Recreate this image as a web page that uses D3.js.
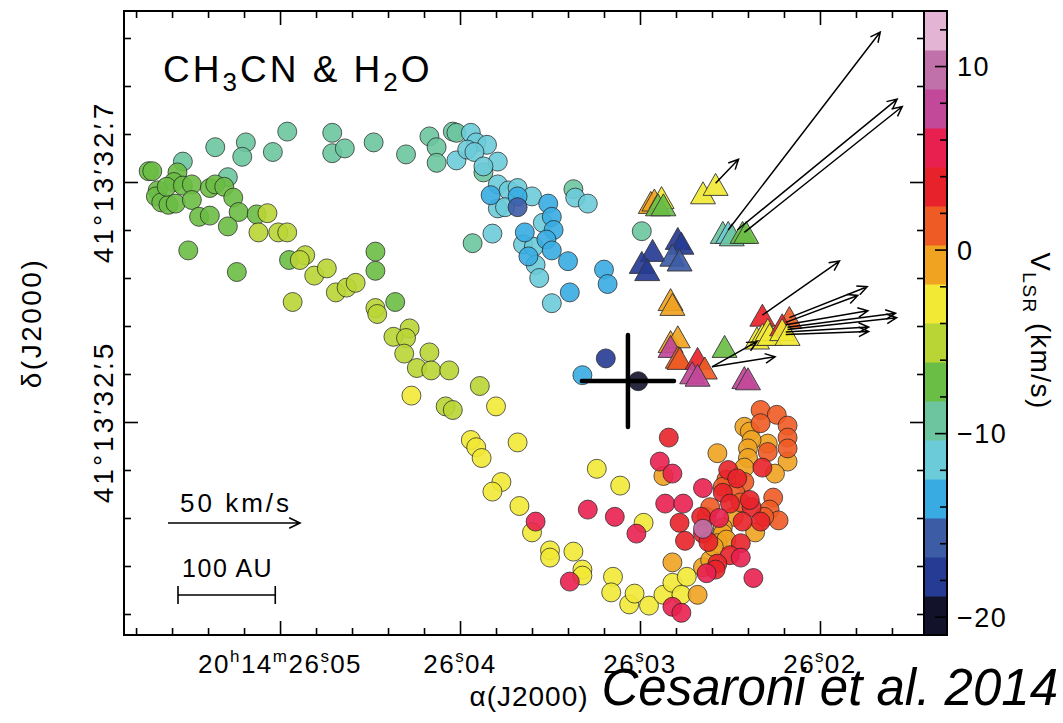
<!DOCTYPE html>
<html>
<head>
<meta charset="utf-8">
<script src="https://cdn.jsdelivr.net/npm/d3@7"></script>
<style>
  body { margin: 0; background: #fff; }
  text { font-family: "Liberation Sans", Arial, sans-serif; fill: #000; }
</style>
</head>
<body>
<svg id="chart"></svg>
<script>
// RA given as ms of time past 20h14m26.000s, Dec as mas past 41d13'32.5"

// velocity colour table, bottom (-21) to top (+13) km/s
const bandColors = ['#12122a', '#263b94', '#3d5ca6', '#38ace2', '#6ccbd9', '#6cc59f', '#6abd45', '#b9d535',
                    '#f2e935', '#f0a321', '#ee5b24', '#e8222a', '#e8204f', '#c2489a', '#c071aa', '#e3b4d3'];
const vRange = [-21, 13];
const cbarTicks = [-20, -10, 0, 10];

// CH3CN spots, grouped by velocity channel: [ra, dec]
const cnTeal = [[53.6,229],[51.9,233],[52.1,221],[50.4,225],[49.6,242],[47.1,241],[47.1,224],[46.4,228],[44.8,233],[43.0,223],
  [55.4,217],[52.9,204],[41.7,238],[41.3,229],[41.3,216],[40.4,242],[40.2,241],[38.7,208],[33.7,194],[39.3,149],[29.9,159]];
const cnGreen = [[57.3,209],[57.1,209],[55.7,208],[55.9,200],[56.8,193],[56.9,188],[56.6,183],[56.2,181],[55.8,182],[56.3,196],
  [55.4,197],[54.9,198],[54.9,185],[54.5,171],[53.9,172],[53.9,195],[53.6,198],[53.1,196],[52.6,187],[52.3,175],[51.3,173],
  [52.9,163],[55.1,143],[52.4,125],[44.7,142],[44.7,126],[49.5,135],[43.6,100]];
const cnYellowGreen = [[50.7,174],[51.2,158],[50.1,158],[49.6,158],[48.6,139],[48.9,135],[48.1,122],[47.4,128],[46.9,108],
  [46.3,112],[45.8,116],[49.3,100],[44.7,95],[44.6,90],[43.7,71],[42.8,78],[43.0,70],[43.1,57],[41.7,58],[42.4,45],[41.6,43],
  [40.6,43],[38.9,30],[40.8,13],[40.4,10]];
const cnCyan = [[39.4,241],[39.1,233],[38.5,231],[40.2,218],[39.6,227],[39.2,225],[37.9,217],[38.7,213],[37.9,198],[37.3,193],
  [36.8,195],[36.0,188],[37.9,178],[37.5,179],[33.6,187],[32.9,182],[38.2,157],[36.5,148],[35.9,146],[35.8,131],[35.6,120],
  [35.4,166],[34.9,99]];
const cnBlue = [[38.3,189],[36.8,188],[35.1,182],[34.9,171],[34.8,160],[35.2,152],[34.9,143],[36.4,158],[36.2,138],[34.0,134],
  [32.0,127],[31.8,115],[33.9,108],[33.2,39]];
const cnMidBlue = [[36.8,179]];
const cnDarkBlue = [[31.9,53]];
const cnBlack = [[30.1,34]];
const cnYellow = [[42.7,22],[38.0,13],[39.4,-15],[39.1,-21],[38.8,-30],[36.8,-17],[32.4,-39],[37.7,-50],[38.2,-58],[36.7,-70],
  [36.0,-92],[35.0,-107],[35.0,-113],[33.7,-108],[33.2,-123],[33.2,-128],[31.1,-53],[29.8,-84],[31.5,-129],[31.6,-142],
  [30.6,-152],[30.3,-143],[29.5,-153],[28.7,-144],[28.2,-134],[27.7,-144],[27.4,-129]];
const cnOrange = [[28.7,-45],[25.7,-26],[28.2,-117],[26.8,-144],[26.5,-121],[24.2,-4],[23.9,-8],[22.9,-18],[23.8,-15],
  [24.0,-22],[21.8,-33],[22.5,-43],[24.0,-30],[24.2,-38],[23.6,-92],[24.8,-79],[25.4,-88],[25.4,-93],[25.7,-101],[25.2,-98],
  [26.1,-115],[25.9,-104]];
const cnOrangeRed = [[23.3,10],[22.4,6],[21.8,-3],[23.3,-1],[21.8,-13],[22.9,-25],[21.8,-22],[24.2,-50],[25.2,-48],[25.4,-54],
  [24.7,-59],[24.4,-67],[22.6,-63],[22.8,-73],[22.3,-82],[23.1,-79],[26.3,-79],[26.1,-71]];
const cnRed = [[28.4,-13],[27.8,-84],[27.5,-99],[25.1,-40],[24.6,-47],[25.4,-59],[25.0,-68],[23.8,-71],[23.9,-65],[23.2,-38],
  [23.3,-83],[24.3,-83],[24.4,-101],[25.0,-111],[25.7,-118],[25.8,-123],[26.6,-79],[26.5,-93],[26.2,-100]];
const cnPinkRed = [[33.9,-133],[32.9,-73],[31.4,-79],[30.2,-93],[28.9,-33],[28.2,-43],[28.6,-68],[27.6,-68],[28.2,-154],
  [27.7,-159],[26.5,-55],[25.6,-80],[23.7,-130],[24.4,-113],[26.3,-126],[35.8,-83]];
const cnMauve = [[26.5,-89]];

// channel velocity (km/s) for each group above
const cnChannels = [[-9.3, cnTeal], [-7.2, cnGreen], [-5.1, cnYellowGreen], [-11.4, cnCyan], [-13.6, cnBlue],
  [-15.7, cnMidBlue], [-17.8, cnDarkBlue], [-19.9, cnBlack], [-2.9, cnYellow], [-0.8, cnOrange], [1.3, cnOrangeRed],
  [3.4, cnRed], [5.6, cnPinkRed], [9.8, cnMauve]];

// H2O maser spots: [ra, dec, vlsr]
const h2oSpots = [[26.5,191,-2.9],[25.8,198,-2.9],[29.4,183,-0.8],[29.2,185,-0.8],[28.8,187,-2.9],[29.0,181,-7.2],[28.7,181,-7.2],
  [25.4,158,-9.3],[25.1,158,-11.4],[24.9,156,-9.3],[24.3,158,-7.2],[24.1,158,-7.2],
  [27.9,153,-17.8],[27.7,149,-17.8],[29.3,143,-17.8],[29.9,133,-17.8],[29.6,127,-17.8],[28.2,139,-15.7],[27.8,135,-15.7],
  [28.3,102,-0.8],[28.2,98,-0.8],[28.3,67,-0.8],[27.9,71,-0.8],[28.3,63,7.7],[27.9,54,1.3],[27.8,53,1.3],[26.8,53,3.4],
  [26.4,45,1.3],[27.1,41,7.7],[26.8,39,7.7],[25.3,63,-7.2],[24.2,37,7.7],[24.0,36,7.7],
  [23.2,89,3.4],[21.7,87,1.3],[23.5,70,-2.9],[23.2,73,-2.9],[22.9,77,-2.9],[22.8,73,-2.9],[22.1,81,3.4],[22.1,77,-2.9],[21.8,73,-2.9]];

// maser proper motions: [ra, dec, vx (km/s, to the right), vy (km/s, up)]
const h2oMotions = [[25.1,160,57.6,75.0],[24.6,160,60.6,49.6],[24.2,158,59.8,47.7],[25.8,199,8.7,9.1],[23.2,89,29.2,20.5],
  [21.7,87,29.5,11.7],[21.9,83,27.3,10.2],[21.9,81,31.1,5.3],[21.8,79,40.9,5.3],[21.8,77,41.3,4.5],[21.9,75,31.4,1.9],
  [21.9,73,31.4,1.1],[26.0,46,23.9,3.8],[26.0,46,17.0,9.5]];

// continuum peak and its error bars
const contPeak = [30.67, 34.2];
const contErr = [2.56, 38.3];

const refVel = 50;       // km/s scale arrow
const refLength = 100;   // AU scale bar
const distPc = 1640;
const decDeg = 41.22;

const xMajor = [50, 40, 30, 20];
const xMajorLabels = [
  [['20'], ['h', 1], ['14'], ['m', 1], ['26'], ['s', 1], ['.', 2], ['05']],
  [['26'], ['s', 1], ['.', 2], ['04']],
  [['26'], ['s', 1], ['.', 2], ['03']],
  [['26'], ['s', 1], ['.', 2], ['02']]
];
const yMajor = [200, 0];
const yMajorLabels = ['7', '5'];

const config = {
  width: 1063, height: 723,
  margin: { top: 11, left: 124 },
  plotW: 800, plotH: 624,
  cbarW: 23
};

const svg = d3.select('#chart')
  .attr('width', config.width)
  .attr('height', config.height);

const xScale = d3.scaleLinear().domain([58.67, 14.22]).range([0, config.plotW]);
const yScale = d3.scaleLinear().domain([-177.5, 342.5]).range([config.plotH, 0]);
const colorScale = d3.scaleQuantize().domain(vRange).range(bandColors);
const kmsScale = d3.scaleLinear().domain([0, 50]).range([0, 132]);

const chart = svg.append('g')
  .attr('transform', `translate(${config.margin.left},${config.margin.top})`);

// ticks, all pointing inwards
const xMinor = d3.range(16, 59, 2).filter(d => !xMajor.includes(d));
const yMinor = d3.range(-160, 341, 40).filter(d => !yMajor.includes(d));

function tickSet(axisFn, scale, values, len, transform) {
  chart.append('g')
    .attr('transform', transform)
    .call(axisFn(scale).tickValues(values).tickSize(len).tickFormat(''))
    .call(g => g.select('.domain').remove())
    .call(g => g.selectAll('line').attr('stroke', '#000').attr('stroke-width', 1.6));
}
tickSet(d3.axisBottom, xScale, xMinor, -7, `translate(0,${config.plotH})`);
tickSet(d3.axisBottom, xScale, xMajor, -14, `translate(0,${config.plotH})`);
tickSet(d3.axisTop, xScale, xMinor, -7, 'translate(0,0)');
tickSet(d3.axisTop, xScale, xMajor, -14, 'translate(0,0)');
tickSet(d3.axisLeft, yScale, yMinor, -7, 'translate(0,0)');
tickSet(d3.axisLeft, yScale, yMajor, -14, 'translate(0,0)');
tickSet(d3.axisRight, yScale, yMinor, -7, `translate(${config.plotW},0)`);
tickSet(d3.axisRight, yScale, yMajor, -14, `translate(${config.plotW},0)`);

// CH3CN circles
const cnPoints = [];
cnChannels.forEach(([v, arr]) => arr.forEach(p => cnPoints.push({ ra: p[0], dec: p[1], v: v })));

chart.append('g').selectAll('circle')
  .data(cnPoints)
  .join('circle')
  .attr('cx', d => xScale(d.ra))
  .attr('cy', d => yScale(d.dec))
  .attr('r', 9.5)
  .attr('fill', d => colorScale(d.v))
  .attr('fill-opacity', 0.9)
  .attr('stroke', '#222')
  .attr('stroke-opacity', 0.8)
  .attr('stroke-width', 0.9);

// continuum cross
const cross = chart.append('g')
  .attr('stroke', '#000').attr('stroke-width', 4.5).attr('stroke-linecap', 'round');
cross.append('line')
  .attr('x1', xScale(contPeak[0] + contErr[0])).attr('x2', xScale(contPeak[0] - contErr[0]))
  .attr('y1', yScale(contPeak[1])).attr('y2', yScale(contPeak[1]));
cross.append('line')
  .attr('x1', xScale(contPeak[0])).attr('x2', xScale(contPeak[0]))
  .attr('y1', yScale(contPeak[1] + contErr[1])).attr('y2', yScale(contPeak[1] - contErr[1]));

// H2O triangles
chart.append('g').selectAll('path')
  .data(h2oSpots)
  .join('path')
  .attr('d', 'M0,-11L12.5,11L-12.5,11Z')
  .attr('transform', d => `translate(${xScale(d[0])},${yScale(d[1])})`)
  .attr('fill', d => colorScale(d[2]))
  .attr('fill-opacity', 0.92)
  .attr('stroke', '#333')
  .attr('stroke-width', 0.9);

// arrow path helper (open V head)
function arrowPath(x0, y0, x1, y1, head) {
  const a = Math.atan2(y1 - y0, x1 - x0);
  const h1 = [x1 - head * Math.cos(a - 0.45), y1 - head * Math.sin(a - 0.45)];
  const h2 = [x1 - head * Math.cos(a + 0.45), y1 - head * Math.sin(a + 0.45)];
  return `M${x0},${y0}L${x1},${y1}M${h1[0]},${h1[1]}L${x1},${y1}L${h2[0]},${h2[1]}`;
}

chart.append('g').selectAll('path')
  .data(h2oMotions)
  .join('path')
  .attr('d', d => {
    const x0 = xScale(d[0]), y0 = yScale(d[1]);
    return arrowPath(x0, y0, x0 + kmsScale(d[2]), y0 - kmsScale(d[3]), 11);
  })
  .attr('fill', 'none')
  .attr('stroke', '#000')
  .attr('stroke-width', 1.5);

// plot frame
chart.append('rect')
  .attr('width', config.plotW).attr('height', config.plotH)
  .attr('fill', 'none').attr('stroke', '#000').attr('stroke-width', 2);

// title
const title = chart.append('text')
  .attr('x', 39).attr('y', 71)
  .attr('font-size', 37)
  .attr('letter-spacing', 3);
title.append('tspan').text('CH');
title.append('tspan').attr('dy', 9).attr('font-size', 26).text('3');
title.append('tspan').attr('dy', -9).text('CN  &  H');
title.append('tspan').attr('dy', 9).attr('font-size', 26).text('2');
title.append('tspan').attr('dy', -9).text('O');

// scale arrow and scale bar
const sx = 44;
const sy = 512;
chart.append('text').attr('x', sx + 68).attr('y', sy - 11).attr('text-anchor', 'middle')
  .attr('font-size', 26).attr('letter-spacing', 3).text(`${refVel} km/s`);
chart.append('path')
  .attr('d', arrowPath(sx, sy, sx + kmsScale(refVel), sy, 12))
  .attr('fill', 'none').attr('stroke', '#000').attr('stroke-width', 1.6);

const barMs = refLength / distPc / (15 * Math.cos(decDeg * Math.PI / 180)) * 1000;
const bx0 = xScale(58.67 - 0) + 54;
const bx1 = bx0 + (xScale(40) - xScale(40 + barMs));
const by = 584;
chart.append('text').attr('x', (bx0 + bx1) / 2 + 1).attr('y', by - 18).attr('text-anchor', 'middle')
  .attr('font-size', 25).attr('letter-spacing', 1.5).text(`${refLength} AU`);
chart.append('path')
  .attr('d', `M${bx0},${by}H${bx1}M${bx0},${by - 9}V${by + 9}M${bx1},${by - 9}V${by + 9}`)
  .attr('fill', 'none').attr('stroke', '#000').attr('stroke-width', 1.6);

// x tick labels
xMajor.forEach((v, i) => {
  const t = chart.append('text')
    .attr('x', xScale(v)).attr('y', config.plotH + 38)
    .attr('text-anchor', 'middle').attr('font-size', 26)
    .attr('letter-spacing', 1.5);
  let prevSup = false;
  xMajorLabels[i].forEach(([s, kind]) => {
    const ts = t.append('tspan').text(s);
    if (kind === 1) {
      ts.attr('dy', -11).attr('font-size', 17);
      prevSup = true;
    } else {
      if (prevSup) ts.attr('dy', 11);
      if (kind === 2) ts.attr('dx', -9);
      prevSup = false;
    }
  });
});

// y tick labels
yMajor.forEach((v, i) => {
  const t = chart.append('text')
    .attr('transform', `translate(-11,${yScale(v)}) rotate(-90)`)
    .attr('text-anchor', 'middle').attr('font-size', 28)
    .attr('letter-spacing', 3);
  t.append('tspan').text('41°13\u203232');
  t.append('tspan').text('\u2032');
  t.append('tspan').attr('dx', -9).text('.');
  t.append('tspan').text(yMajorLabels[i]);
});

// axis titles
svg.append('text')
  .attr('transform', `translate(${config.margin.left + 405},706)`)
  .attr('text-anchor', 'middle').attr('font-size', 28).attr('letter-spacing', 1)
  .text('\u03b1(J2000)');
svg.append('text')
  .attr('transform', 'translate(41,323) rotate(-90)')
  .attr('text-anchor', 'middle').attr('font-size', 28).attr('letter-spacing', 2.5)
  .text('\u03b4(J2000)');

// colour bar
const cbx = config.margin.left + config.plotW;
const cbScale = d3.scaleLinear().domain(vRange).range([config.margin.top + config.plotH, config.margin.top]);
const bandW = (vRange[1] - vRange[0]) / bandColors.length;
const cbar = svg.append('g');
cbar.selectAll('rect.band')
  .data(bandColors)
  .join('rect')
  .attr('class', 'band')
  .attr('x', cbx)
  .attr('y', (d, i) => cbScale(vRange[0] + (i + 1) * bandW))
  .attr('width', config.cbarW)
  .attr('height', (d, i) => cbScale(vRange[0] + i * bandW) - cbScale(vRange[0] + (i + 1) * bandW) + 0.5)
  .attr('fill', d => d);

cbar.append('g')
  .attr('transform', `translate(${cbx + config.cbarW},0)`)
  .call(d3.axisRight(cbScale).tickValues(d3.range(-20, 13, 2).filter(d => d % 10 !== 0)).tickSize(-7).tickFormat(''))
  .call(g => g.select('.domain').remove())
  .call(g => g.selectAll('line').attr('stroke', '#000').attr('stroke-width', 1.6));
cbar.append('g')
  .attr('transform', `translate(${cbx + config.cbarW},0)`)
  .call(d3.axisRight(cbScale).tickValues(cbarTicks).tickSize(-12).tickFormat(''))
  .call(g => g.select('.domain').remove())
  .call(g => g.selectAll('line').attr('stroke', '#000').attr('stroke-width', 1.6));

cbar.append('rect')
  .attr('x', cbx).attr('y', config.margin.top)
  .attr('width', config.cbarW).attr('height', config.plotH)
  .attr('fill', 'none').attr('stroke', '#000').attr('stroke-width', 2);

cbar.selectAll('text.cbl')
  .data(cbarTicks)
  .join('text')
  .attr('class', 'cbl')
  .attr('x', cbx + config.cbarW + 10)
  .attr('y', d => cbScale(d) + 10)
  .attr('font-size', 27)
  .attr('letter-spacing', 1.5)
  .text(d => d < 0 ? '\u2212' + Math.abs(d) : d);

const vt = svg.append('text')
  .attr('transform', 'translate(1031,331) rotate(90)')
  .attr('text-anchor', 'middle').attr('font-size', 28).attr('letter-spacing', 1.5);
vt.append('tspan').text('V');
vt.append('tspan').attr('dy', 8).attr('font-size', 19).text('LSR');
vt.append('tspan').attr('dy', -8).text(' (km/s)');

// credit
svg.append('text')
  .attr('x', 1058).attr('y', 705)
  .attr('text-anchor', 'end')
  .attr('font-size', 51)
  .attr('font-style', 'italic')
  .text('Cesaroni et al. 2014');
</script>
</body>
</html>
